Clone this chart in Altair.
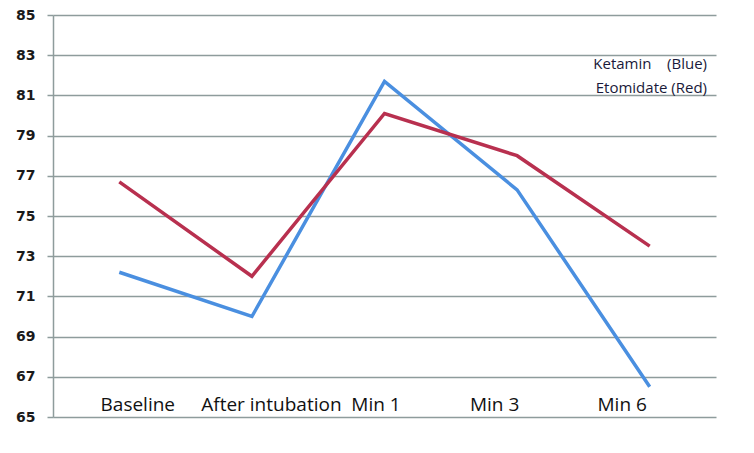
import altair as alt
import pandas as pd

categories = ["Baseline", "After intubation", "Min 1", "Min 3", "Min 6"]
ketamin = [72.2, 70.0, 81.7, 76.3, 66.5]
etomidate = [76.7, 72.0, 80.1, 78.0, 73.5]
series_names = ["Ketamin", "Etomidate"]
y_ticks = list(range(65, 86, 2))
legend_lines = ["Ketamin\u00a0\u00a0\u00a0\u00a0(Blue)", "Etomidate (Red)"]

rows = []
for name, vals in zip(series_names, [ketamin, etomidate]):
    for c, v in zip(categories, vals):
        rows.append({"cat": c, "value": v, "series": name})
df = pd.DataFrame(rows)

grid_col = "#8e9c9c"
label_expr = ("datum.value == 'Baseline' ? 18 : datum.value == 'After intubation' ? 19 : "
              "datum.value == 'Min 1' ? -9 : datum.value == 'Min 3' ? -23 : -28")

x = alt.X("cat:N", sort=categories, title=None,
          scale=alt.Scale(type="point", padding=0.5),
          axis=alt.Axis(domain=False, ticks=False, tickSize=0, grid=False,
                        labelAngle=0, labelPadding=-13, labelBaseline="middle",
                        labelFont="Open Sans", labelFontSize=19, labelColor="#111111",
                        labelOffset={"expr": label_expr}))
y = alt.Y("value:Q", title=None,
          scale=alt.Scale(domain=[65, 85], nice=False, zero=False),
          axis=alt.Axis(values=y_ticks, grid=True, gridColor=grid_col, gridWidth=1.5,
                        domain=True, domainColor=grid_col, domainWidth=1.5,
                        tickColor=grid_col, tickSize=6, tickWidth=1.5,
                        labelPadding=12, labelFont="DejaVu Sans", labelFontSize=14,
                        labelFontWeight="bold", labelColor="#1a1a1a"))

lines = alt.Chart(df).mark_line(strokeWidth=3.5).encode(
    x=x, y=y,
    color=alt.Color("series:N", scale=alt.Scale(domain=series_names, range=["#4a8fe0", "#b8304f"]), legend=None),
    order=alt.Order("series:N", sort="descending"),
    detail="series:N",
)

leg_df = pd.DataFrame({"t": legend_lines, "i": [0, 1]})
legend = alt.Chart(leg_df).mark_text(align="right", baseline="middle", font="Open Sans",
                                     fontSize=15, color="#1a1a3a").encode(
    x=alt.value(654),
    y=alt.Y("i:O", axis=None, scale=alt.Scale(type="point", range=[49, 73], padding=0)),
    text="t:N",
)

chart = alt.layer(lines, legend).resolve_scale(y="independent").properties(
    width=663, height=402,
    autosize=alt.AutoSizeParams(type="none"),
    padding={"left": 45, "top": 7, "right": 20, "bottom": 25},
    background="white",
).configure_view(stroke=None)

chart.save("out.html", embed_options={"renderer": "svg", "actions": False})
